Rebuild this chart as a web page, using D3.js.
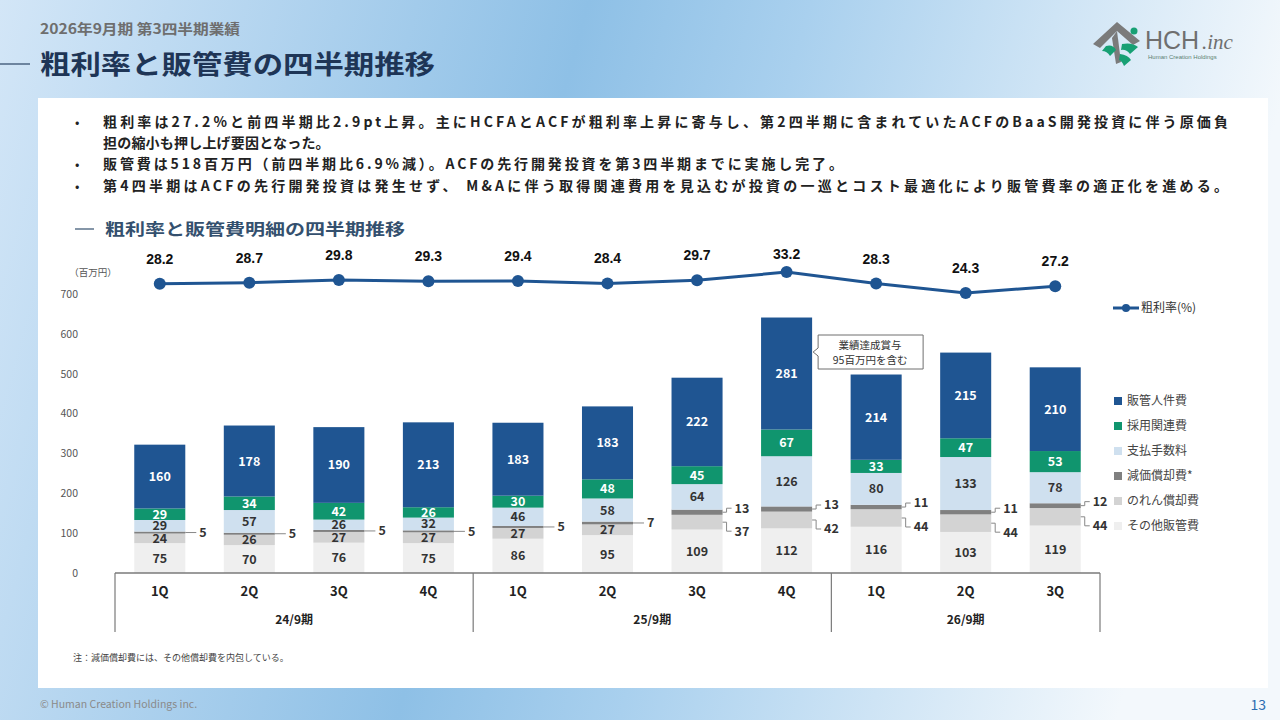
<!DOCTYPE html>
<html>
<head>
<meta charset="utf-8">
<script src="https://cdn.jsdelivr.net/npm/d3@7"></script>
<style>
  html, body { margin: 0; padding: 0; }
  body { width: 1280px; height: 720px; overflow: hidden; }
  svg { display: block; font-family: "Noto Sans CJK JP", "Noto Sans", sans-serif; }
</style>
</head>
<body>
<div id="chart"></div>
<script>
// 四半期・期
const quarters = ['1Q', '2Q', '3Q', '4Q', '1Q', '2Q', '3Q', '4Q', '1Q', '2Q', '3Q'];
const fiscalYears = ['24/9期', '25/9期', '26/9期'];
const quartersPerYear = [4, 4, 3];

// 粗利率(%)
const grossMargin = [28.2, 28.7, 29.8, 29.3, 29.4, 28.4, 29.7, 33.2, 28.3, 24.3, 27.2];

// 販管費内訳（百万円）
const personnel = [160, 178, 190, 213, 183, 183, 222, 281, 214, 215, 210];
const recruiting = [29, 34, 42, 26, 30, 48, 45, 67, 33, 47, 53];
const fees = [29, 57, 26, 32, 46, 58, 64, 126, 80, 133, 78];
const depreciation = [5, 5, 5, 5, 5, 7, 13, 13, 11, 11, 12];
const goodwill = [24, 26, 27, 27, 27, 27, 37, 42, 44, 44, 44];
const otherSga = [75, 70, 76, 75, 86, 95, 109, 112, 116, 103, 119];

const yTicks = [0, 100, 200, 300, 400, 500, 600, 700];

const bullets = [
  '粗利率は27.2%と前四半期比2.9pt上昇。主にHCFAとACFが粗利率上昇に寄与し、第2四半期に含まれていたACFのBaaS開発投資に伴う原価負',
  '担の縮小も押し上げ要因となった。',
  '販管費は518百万円（前四半期比6.9%減）。ACFの先行開発投資を第3四半期までに実施し完了。',
  '第4四半期はACFの先行開発投資は発生せず、 M&Aに伴う取得関連費用を見込むが投資の一巡とコスト最適化により販管費率の適正化を進める。'
];

const W = 1280, H = 720;
const svg = d3.select('#chart').append('svg').attr('width', W).attr('height', H);
const defs = svg.append('defs');

// 背景グラデーション
const bg = defs.append('linearGradient').attr('id', 'bg').attr('x1', '0').attr('y1', '0').attr('x2', '1').attr('y2', '0.15');
bg.append('stop').attr('offset', '0%').attr('stop-color', '#d3e6f7');
bg.append('stop').attr('offset', '45%').attr('stop-color', '#8ec0e6');
bg.append('stop').attr('offset', '62%').attr('stop-color', '#a9d0ee');
bg.append('stop').attr('offset', '100%').attr('stop-color', '#f3f8fc');
svg.append('rect').attr('width', W).attr('height', H).attr('fill', 'url(#bg)');

// 白パネル
svg.append('rect').attr('x', 38).attr('y', 98).attr('width', 1230).attr('height', 590).attr('fill', '#fff');

// ヘッダー
svg.append('text').attr('x', 40).attr('y', 34).text('2026年9月期 第3四半期業績')
  .attr('font-size', 14).attr('font-weight', 700).attr('fill', '#6e6e6e')
  .attr('textLength', 200).attr('lengthAdjust', 'spacingAndGlyphs');
svg.append('line').attr('x1', 0).attr('x2', 30).attr('y1', 64).attr('y2', 64).attr('stroke', '#2a4466').attr('stroke-width', 1.2);
svg.append('text').attr('x', 40).attr('y', 74).text('粗利率と販管費の四半期推移')
  .attr('font-size', 26).attr('font-weight', 700).attr('fill', '#1e3556')
  .attr('textLength', 395).attr('lengthAdjust', 'spacingAndGlyphs');

// ロゴ（簡易）
const logo = svg.append('g');
logo.append('path').attr('d', 'M1093,44 L1117,22 L1140,41 L1133,45 L1117,31 L1100,48 Z').attr('fill', '#7b7b7b');
logo.append('path').attr('d', 'M1117,31 L1121,62 L1116,64 L1112,38 Z').attr('fill', '#7b7b7b');
logo.append('path').attr('d', 'M1106,46 Q1113,44 1116,50 L1110,56 Q1107,51 1102,51 Z').attr('fill', '#17a074');
logo.append('path').attr('d', 'M1122,44 Q1132,42 1138,47 L1130,54 Q1126,49 1121,50 Z').attr('fill', '#17a074');
logo.append('path').attr('d', 'M1120,54 Q1128,55 1131,60 L1124,66 Q1122,61 1119,60 Z').attr('fill', '#17a074');
logo.append('circle').attr('cx', 1134).attr('cy', 31).attr('r', 3.5).attr('fill', '#17a074');
logo.append('text').attr('x', 1145).attr('y', 49).text('HCH')
  .attr('font-family', 'Liberation Sans, Arial, sans-serif').attr('font-size', 25).attr('fill', '#6f6f6f');
logo.append('text').attr('x', 1202).attr('y', 49).text('.inc')
  .attr('font-family', 'Liberation Serif, serif').attr('font-style', 'italic').attr('font-size', 21).attr('fill', '#6f6f6f');
logo.append('text').attr('x', 1148).attr('y', 59).text('Human Creation Holdings')
  .attr('font-family', 'Liberation Sans, Arial, sans-serif').attr('font-size', 6).attr('fill', '#5b7f72');

// 箇条書き
const bulletY = [122, 143, 164, 186];
const bulletLen = [1125, null, 740, 1125];
bullets.forEach((t, i) => {
  if (i !== 1) {
    svg.append('text').attr('x', 75).attr('y', bulletY[i]).attr('dy', '0.35em').text('•')
      .attr('font-size', 13).attr('fill', '#222');
  }
  const bt = svg.append('text').attr('x', 103).attr('y', bulletY[i]).attr('dy', '0.35em').text(t)
    .attr('font-size', 14).attr('font-weight', 700).attr('fill', '#222');
  if (bulletLen[i]) bt.attr('textLength', bulletLen[i]).attr('lengthAdjust', 'spacing');
  else bt.attr('letter-spacing', 0.2);
});

// セクション見出し
svg.append('line').attr('x1', 75).attr('x2', 94).attr('y1', 229).attr('y2', 229).attr('stroke', '#34506e').attr('stroke-width', 1.2);
svg.append('text').attr('x', 105).attr('y', 229).attr('dy', '0.35em').text('粗利率と販管費明細の四半期推移')
  .attr('font-size', 16).attr('font-weight', 700).attr('fill', '#34506e')
  .attr('textLength', 300).attr('lengthAdjust', 'spacingAndGlyphs');

// スケール
const x = d3.scaleBand().domain(d3.range(quarters.length)).range([115, 1100]).paddingInner(0.43).paddingOuter(0.215);
const y = d3.scaleLinear().domain([0, 700]).range([573, 294]);
const yRate = d3.scaleLinear().domain([0, 40]).range([350.4, 256]);

// Y軸
const yAxis = svg.append('g').attr('transform', 'translate(78,0)')
  .call(d3.axisLeft(y).tickValues(yTicks).tickSize(0).tickPadding(0));
yAxis.select('.domain').remove();
yAxis.selectAll('text').attr('font-size', 10.5).attr('fill', '#555').attr('font-family', 'Noto Sans CJK JP, sans-serif');
svg.append('text').attr('x', 93).attr('y', 273).attr('dy', '0.35em').attr('text-anchor', 'middle')
  .text('（百万円）').attr('font-size', 9.5).attr('fill', '#555');

// 積み上げ
const seriesDefs = [
  { key: 'other', name: 'その他販管費', values: otherSga, color: '#efefef', text: '#333' },
  { key: 'goodwill', name: 'のれん償却費', values: goodwill, color: '#d3d3d3', text: '#333' },
  { key: 'dep', name: '減価償却費*', values: depreciation, color: '#808080', text: '#333' },
  { key: 'fees', name: '支払手数料', values: fees, color: '#cfe0ef', text: '#333' },
  { key: 'recruit', name: '採用関連費', values: recruiting, color: '#10956e', text: '#fff' },
  { key: 'personnel', name: '販管人件費', values: personnel, color: '#1f5592', text: '#fff' }
];
const rows = quarters.map((q, i) => {
  const r = { i };
  seriesDefs.forEach(s => { r[s.key] = s.values[i]; });
  return r;
});
const stack = d3.stack().keys(seriesDefs.map(s => s.key));
const stacked = stack(rows);

const barG = svg.append('g');
barG.selectAll('g.series').data(stacked).join('g').attr('class', 'series')
  .attr('fill', (d, k) => seriesDefs[k].color)
  .selectAll('rect').data(d => d).join('rect')
  .attr('x', d => x(d.data.i))
  .attr('width', x.bandwidth())
  .attr('y', d => y(d[1]))
  .attr('height', d => y(d[0]) - y(d[1]));

// 数値ラベル
const labelG = svg.append('g').attr('font-weight', 700).attr('font-size', 12.5).attr('text-anchor', 'middle');
const splitLabels = i => depreciation[i] >= 10;
stacked.forEach((layer, k) => {
  const s = seriesDefs[k];
  layer.forEach(d => {
    const i = d.data.i;
    const cx = x(i) + x.bandwidth() / 2;
    const cy = (y(d[0]) + y(d[1])) / 2;
    const right = x(i) + x.bandwidth();
    if (s.key === 'dep') {
      if (splitLabels(i)) {
        const ly = cy - 4;
        svg.append('polyline').attr('points', `${right},${cy} ${right + 4},${cy} ${right + 4},${ly} ${right + 9},${ly}`)
          .attr('fill', 'none').attr('stroke', '#888').attr('stroke-width', 1);
        labelG.append('text').attr('x', right + 12).attr('y', ly).attr('dy', '0.35em').attr('text-anchor', 'start')
          .attr('fill', '#333').text(d.data[s.key]);
      } else {
        svg.append('line').attr('x1', right).attr('x2', right + 11).attr('y1', cy).attr('y2', cy)
          .attr('stroke', '#888').attr('stroke-width', 1);
        labelG.append('text').attr('x', right + 14).attr('y', cy).attr('dy', '0.35em').attr('text-anchor', 'start')
          .attr('fill', '#333').text(d.data[s.key]);
      }
      return;
    }
    if (s.key === 'goodwill' && splitLabels(i)) {
      const ly = cy + 9;
      svg.append('polyline').attr('points', `${right},${cy} ${right + 4},${cy} ${right + 4},${ly} ${right + 9},${ly}`)
        .attr('fill', 'none').attr('stroke', '#888').attr('stroke-width', 1);
      labelG.append('text').attr('x', right + 12).attr('y', ly).attr('dy', '0.35em').attr('text-anchor', 'start')
        .attr('fill', '#333').text(d.data[s.key]);
      return;
    }
    labelG.append('text').attr('x', cx).attr('y', cy).attr('dy', '0.36em')
      .attr('fill', s.text).text(d.data[s.key]);
  });
});

// X軸（2段）
const axisG = svg.append('g').attr('stroke', '#7a7a7a');
axisG.append('line').attr('x1', 115).attr('x2', 1100).attr('y1', 573).attr('y2', 573).attr('stroke-width', 1.6);
let idx = 0;
const yearBounds = [];
quartersPerYear.forEach(n => {
  yearBounds.push([idx, idx + n - 1]);
  idx += n;
});
const edges = [115].concat(yearBounds.map(b => x(b[1]) + x.step() - x.step() * x.paddingInner() / 2));
edges.forEach(ex => {
  axisG.append('line').attr('x1', ex).attr('x2', ex).attr('y1', 573).attr('y2', 632).attr('stroke-width', 1.2);
});
svg.append('g').selectAll('text').data(quarters).join('text')
  .attr('x', (d, i) => x(i) + x.bandwidth() / 2).attr('y', 591).attr('dy', '0.35em')
  .attr('text-anchor', 'middle').attr('font-size', 13).attr('font-weight', 700).attr('fill', '#222')
  .text(d => d);
svg.append('g').selectAll('text').data(fiscalYears).join('text')
  .attr('x', (d, k) => (edges[k] + edges[k + 1]) / 2).attr('y', 620).attr('dy', '0.35em')
  .attr('text-anchor', 'middle').attr('font-size', 12).attr('font-weight', 700).attr('fill', '#222')
  .text(d => d);

// 粗利率ライン
const lineColor = '#1f5592';
const line = d3.line().x((d, i) => x(i) + x.bandwidth() / 2).y(d => yRate(d));
svg.append('path').datum(grossMargin).attr('d', line).attr('fill', 'none').attr('stroke', lineColor).attr('stroke-width', 3);
svg.append('g').selectAll('circle').data(grossMargin).join('circle')
  .attr('cx', (d, i) => x(i) + x.bandwidth() / 2).attr('cy', d => yRate(d)).attr('r', 6).attr('fill', lineColor);
svg.append('g').selectAll('text').data(grossMargin).join('text')
  .attr('x', (d, i) => x(i) + x.bandwidth() / 2)
  .attr('y', d => Math.max(yRate(d) - 25, 254)).attr('dy', '0.35em')
  .attr('text-anchor', 'middle').attr('font-family', 'Liberation Sans, Arial, sans-serif')
  .attr('font-size', 14).attr('font-weight', 700).attr('fill', '#111')
  .text(d => d.toFixed(1));

// 吹き出し（4Q 25/9）
const calloutIdx = 7;
const cbx = x(calloutIdx) + x.bandwidth() + 6;
const cby = 335;
svg.append('path')
  .attr('d', `M${cbx},${cby} H${cbx + 105} V${cby + 34} H${cbx} V${cby + 21} L${cbx - 5},${cby + 17} L${cbx},${cby + 13} Z`)
  .attr('fill', '#fff').attr('stroke', '#6f6f6f').attr('stroke-width', 1);
svg.append('text').attr('x', cbx + 52).attr('y', cby + 10).attr('dy', '0.35em').attr('text-anchor', 'middle')
  .attr('font-size', 10.5).attr('fill', '#333').text('業績達成賞与');
svg.append('text').attr('x', cbx + 52).attr('y', cby + 25).attr('dy', '0.35em').attr('text-anchor', 'middle')
  .attr('font-size', 10.5).attr('fill', '#333').text('95百万円を含む');

// 凡例
const lg = svg.append('g');
lg.append('line').attr('x1', 1113).attr('x2', 1139).attr('y1', 308).attr('y2', 308).attr('stroke', lineColor).attr('stroke-width', 3);
lg.append('circle').attr('cx', 1126).attr('cy', 308).attr('r', 4).attr('fill', lineColor);
lg.append('text').attr('x', 1141).attr('y', 308).attr('dy', '0.35em').attr('font-size', 12).attr('fill', '#333').text('粗利率(%)');
const legendOrder = seriesDefs.slice().reverse();
legendOrder.forEach((s, k) => {
  const ly = 401 + k * 25;
  lg.append('rect').attr('x', 1114).attr('y', ly - 4).attr('width', 8).attr('height', 8).attr('fill', s.color);
  lg.append('text').attr('x', 1127).attr('y', ly).attr('dy', '0.35em').attr('font-size', 12).attr('fill', '#444').text(s.name);
});

// 注記・フッター
svg.append('text').attr('x', 73).attr('y', 658).attr('dy', '0.35em').attr('font-size', 9).attr('fill', '#444')
  .text('注：減価償却費には、その他償却費を内包している。');
svg.append('text').attr('x', 40).attr('y', 704).attr('dy', '0.35em').attr('font-size', 10.5).attr('fill', '#8a8a8a')
  .text('© Human Creation Holdings inc.');
svg.append('text').attr('x', 1266).attr('y', 705).attr('dy', '0.35em').attr('text-anchor', 'end')
  .attr('font-size', 14).attr('fill', '#2b6cb0').text('13');
</script>
</body>
</html>
